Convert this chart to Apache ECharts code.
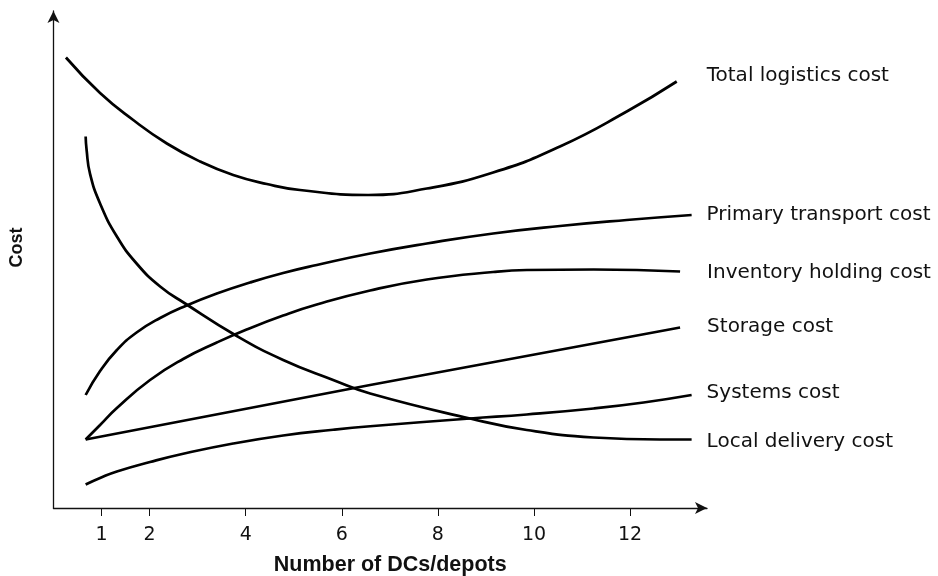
<!DOCTYPE html>
<html>
<head>
<meta charset="utf-8">
<script src="https://cdn.jsdelivr.net/npm/echarts@6/dist/echarts.min.js"></script>
<style>
html,body{margin:0;padding:0;background:#fff;}
#chart{width:938px;height:576px;}
</style>
</head>
<body>
<div id="chart"></div>
<script>
// x = number of DCs/depots, y = relative cost (unitless)
const seriesNames = ['Total logistics cost','Primary transport cost','Inventory holding cost','Storage cost','Systems cost','Local delivery cost'];
const xTickValues = [1, 2, 4, 6, 8, 10, 12];

const totalLogistics = [[0.26,90.1],[0.97,83.0],[1.66,77.6],[2.36,72.9],[3.05,69.3],[3.74,66.6],[4.44,64.8],[5.13,63.6],[6.55,62.6],[7.77,63.9],[9.15,67.1],[10.54,72.3],[11.93,79.3],[12.97,85.3]];
const primaryTransport = [[0.67,22.6],[0.97,27.4],[1.32,31.6],[1.73,35.1],[2.22,38.0],[2.77,40.5],[3.40,42.9],[4.09,45.1],[4.78,47.0],[5.48,48.6],[6.59,50.9],[7.77,52.9],[9.15,54.9],[10.54,56.4],[11.93,57.6],[13.28,58.6]];
const inventoryHolding = [[0.67,13.7],[0.97,16.6],[1.32,20.0],[2.01,25.6],[2.70,29.8],[3.40,33.1],[4.02,35.7],[4.78,38.5],[5.48,40.7],[6.59,43.5],[7.77,45.7],[9.15,47.2],[9.85,47.6],[11.24,47.7],[13.04,47.3]];
const storage = [[0.67,13.7],[6.59,24.6],[13.04,36.1]];
const systems = [[0.67,4.7],[0.97,6.0],[1.32,7.3],[2.01,9.2],[2.70,10.85],[3.74,12.9],[4.78,14.5],[5.82,15.65],[6.59,16.35],[8.67,17.9],[9.85,18.7],[11.24,19.9],[12.28,21.1],[13.28,22.6]];
const localDelivery = [[0.67,74.3],[0.69,71.6],[0.76,66.9],[0.97,60.9],[1.32,54.3],[1.73,48.9],[2.22,44.3],[2.74,40.9],[3.78,34.6],[4.78,29.6],[5.82,25.6],[6.59,22.9],[8.67,17.9],[9.85,15.6],[11.24,14.1],[12.62,13.7],[13.28,13.7]];

const seriesData = [totalLogistics, primaryTransport, inventoryHolding, storage, systems, localDelivery];
// label placement styles (distance from line end, vertical offset)
const labelDistance = [30, 15, 27, 27, 15, 15];
const labelOffsetY = [-5.5, 0, 1, -0.5, -2.5, 2.5];

const chart = echarts.init(document.getElementById('chart'), null, {renderer: 'canvas'});

const series = seriesData.map((d, i) => ({
  name: seriesNames[i],
  type: 'line',
  data: d,
  smooth: 0.5,
  showSymbol: false,
  symbol: 'none',
  lineStyle: {color: '#000', width: 2.7},
  itemStyle: {color: '#000'},
  endLabel: {
    show: true,
    formatter: '{a}',
    color: '#111',
    fontFamily: 'DejaVu Sans',
    fontSize: 20,
    distance: labelDistance[i],
    offset: [0, labelOffsetY[i]]
  },
  emphasis: {disabled: true}
}));

chart.setOption({
  animation: false,
  backgroundColor: '#fff',
  grid: {left: 53.45, right: 231, top: 11, bottom: 68, containLabel: false, outerBoundsMode: 'none'},
  xAxis: {
    type: 'value',
    min: 0,
    max: 13.6,
    name: 'Number of DCs/depots',
    nameLocation: 'middle',
    nameGap: 46,
    nameTextStyle: {fontFamily: 'Liberation Sans', fontWeight: 'bold', fontSize: 21.5, color: '#111', padding: [0, 0, 0, 20]},
    axisLine: {show: true, symbol: ['none', 'arrow'], symbolSize: [9, 12], lineStyle: {color: '#111', width: 1.3}},
    axisTick: {show: true, customValues: xTickValues, length: 8, inside: false, lineStyle: {color: '#111', width: 1}},
    axisLabel: {show: true, customValues: xTickValues, margin: 18, fontFamily: 'DejaVu Sans', fontSize: 19, color: '#111'},
    splitLine: {show: false}
  },
  yAxis: {
    type: 'value',
    min: 0,
    max: 99.4,
    name: 'Cost',
    nameLocation: 'middle',
    nameGap: 27,
    nameRotate: 90,
    nameTextStyle: {fontFamily: 'Liberation Sans', fontWeight: 'bold', fontSize: 18, color: '#111', padding: [0, 0, 0, 24]},
    axisLine: {show: true, symbol: ['none', 'arrow'], symbolSize: [9, 12], lineStyle: {color: '#111', width: 1.3}},
    axisTick: {show: false},
    axisLabel: {show: false},
    splitLine: {show: false}
  },
  series: series
});
</script>
</body>
</html>
